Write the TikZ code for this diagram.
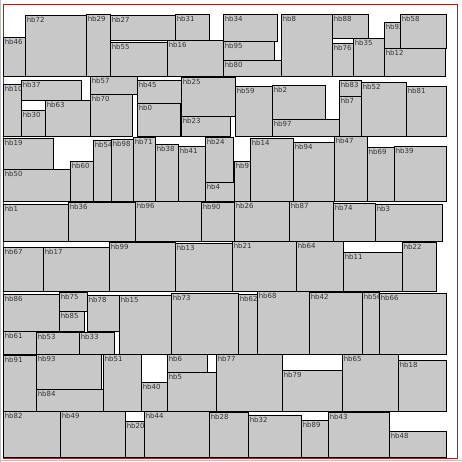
\documentclass[tikz,border=0pt]{standalone}
\usepackage{fontspec}
\setmainfont{DejaVu Sans}
\usetikzlibrary{positioning}
\definecolor{hbgray}{RGB}{200,200,200}
\definecolor{hbtext}{RGB}{50,50,50}
\definecolor{framered}{RGB}{230,0,0}

% one packed block: name, x1, y1, x2, y2 (pixels, y downwards)
\newcommand{\hbrect}[5]{%
  \draw[hbblock] (#2,#3) rectangle (#4,#5);
  \node[hblabel] (#1) at (#2+1.6,#3+2.2) {#1};%
}

\begin{document}
\begin{tikzpicture}[
    x=1pt, y=-1pt,
    hbblock/.style={draw=black, fill=hbgray, line width=0.8pt},
    hblabel/.style={anchor=north west, inner sep=0pt, text=hbtext, font=\fontsize{7}{8}\selectfont},
    frame/.style={draw=framered, line width=0.9pt}
]
\useasboundingbox (0,0) rectangle (462,462);

% Outer frame
\draw[frame] (3,4) rectangle (457,458);
\draw[black!25, line width=1.2pt] (0,460.8) -- (462,460.8);
\draw[black!25, line width=0.8pt] (0.4,0) -- (0.4,462);

% Row 1
\hbrect{hb46}{3}{37}{25}{76}
\hbrect{hb72}{25}{15}{86}{76}
\hbrect{hb29}{86}{14}{110}{76}
\hbrect{hb27}{110}{15}{175}{40}
\hbrect{hb31}{175}{14}{209}{40}
\hbrect{hb55}{110}{42}{167}{76}
\hbrect{hb16}{167}{40}{223}{76}
\hbrect{hb34}{223}{14}{277}{41}
\hbrect{hb95}{223}{41}{274}{60}
\hbrect{hb80}{223}{60}{281}{76}
\hbrect{hb8}{281}{14}{332}{76}
\hbrect{hb88}{332}{14}{368}{38}
\hbrect{hb76}{332}{43}{353}{76}
\hbrect{hb35}{353}{38}{384}{76}
\hbrect{hb92}{384}{22}{400}{48}
\hbrect{hb58}{400}{14}{446}{48}
\hbrect{hb12}{384}{48}{445}{76}

% Row 2
\hbrect{hb10}{3}{84}{21}{136}
\hbrect{hb37}{21}{80}{81}{100}
\hbrect{hb30}{21}{110}{45}{136}
\hbrect{hb63}{45}{100}{90}{136}
\hbrect{hb57}{90}{76}{137}{94}
\hbrect{hb70}{90}{94}{132}{136}
\hbrect{hb45}{137}{80}{181}{103}
\hbrect{hb0}{137}{103}{180}{136}
\hbrect{hb25}{181}{77}{235}{116}
\hbrect{hb23}{181}{116}{230}{136}
\hbrect{hb59}{235}{86}{272}{136}
\hbrect{hb2}{272}{85}{325}{119}
\hbrect{hb97}{272}{119}{339}{136}
\hbrect{hb83}{339}{80}{361}{96}
\hbrect{hb7}{339}{96}{361}{136}
\hbrect{hb52}{361}{82}{406}{136}
\hbrect{hb81}{406}{86}{446}{136}

% Row 3
\hbrect{hb19}{3}{138}{53}{169}
\hbrect{hb50}{3}{169}{70}{201}
\hbrect{hb60}{70}{161}{93}{201}
\hbrect{hb54}{93}{140}{111}{201}
\hbrect{hb98}{111}{139}{133}{201}
\hbrect{hb71}{133}{137}{155}{201}
\hbrect{hb38}{155}{144}{178}{201}
\hbrect{hb41}{178}{146}{205}{201}
\hbrect{hb24}{205}{137}{233}{182}
\hbrect{hb4}{205}{182}{234}{201}
\hbrect{hb9}{234}{161}{250}{201}
\hbrect{hb14}{250}{138}{293}{201}
\hbrect{hb94}{293}{142}{334}{201}
\hbrect{hb47}{334}{136}{367}{201}
\hbrect{hb69}{367}{147}{394}{201}
\hbrect{hb39}{394}{146}{446}{201}

% Row 4
\hbrect{hb1}{3}{204}{68}{241}
\hbrect{hb36}{68}{202}{135}{241}
\hbrect{hb96}{135}{201}{201}{241}
\hbrect{hb90}{201}{202}{234}{241}
\hbrect{hb26}{234}{201}{289}{241}
\hbrect{hb87}{289}{201}{333}{241}
\hbrect{hb74}{333}{203}{375}{241}
\hbrect{hb3}{375}{204}{442}{241}

% Row 5
\hbrect{hb67}{3}{247}{43}{291}
\hbrect{hb17}{43}{247}{109}{291}
\hbrect{hb99}{109}{242}{175}{291}
\hbrect{hb13}{175}{243}{232}{291}
\hbrect{hb21}{232}{241}{296}{291}
\hbrect{hb64}{296}{241}{343}{291}
\hbrect{hb11}{343}{252}{402}{291}
\hbrect{hb22}{402}{242}{436}{291}

% Row 6
\hbrect{hb86}{3}{294}{59}{331}
\hbrect{hb75}{59}{292}{87}{311}
\hbrect{hb85}{59}{311}{84}{331}
\hbrect{hb78}{87}{295}{119}{331}
\hbrect{hb15}{119}{295}{171}{354}
\hbrect{hb73}{171}{293}{238}{354}
\hbrect{hb62}{238}{294}{257}{354}
\hbrect{hb68}{257}{291}{309}{354}
\hbrect{hb42}{309}{292}{362}{354}
\hbrect{hb56}{362}{292}{379}{354}
\hbrect{hb66}{379}{293}{446}{354}
\hbrect{hb61}{3}{331}{36}{354}
\hbrect{hb53}{36}{332}{79}{354}
\hbrect{hb33}{79}{332}{114}{354}

% Row 7
\hbrect{hb91}{3}{355}{36}{411}
\hbrect{hb93}{36}{354}{101}{389}
\hbrect{hb84}{36}{389}{103}{411}
\hbrect{hb51}{103}{354}{141}{411}
\hbrect{hb40}{141}{382}{167}{411}
\hbrect{hb6}{167}{354}{207}{372}
\hbrect{hb5}{167}{372}{216}{411}
\hbrect{hb77}{216}{354}{282}{411}
\hbrect{hb79}{282}{370}{342}{411}
\hbrect{hb65}{342}{354}{398}{411}
\hbrect{hb18}{398}{360}{446}{411}

% Row 8
\hbrect{hb82}{3}{411}{60}{457}
\hbrect{hb49}{60}{411}{125}{457}
\hbrect{hb20}{125}{421}{144}{457}
\hbrect{hb44}{144}{411}{209}{457}
\hbrect{hb28}{209}{412}{248}{457}
\hbrect{hb32}{248}{415}{301}{457}
\hbrect{hb89}{301}{420}{328}{457}
\hbrect{hb43}{328}{412}{389}{457}
\hbrect{hb48}{389}{431}{446}{457}

\end{tikzpicture}
\end{document}
